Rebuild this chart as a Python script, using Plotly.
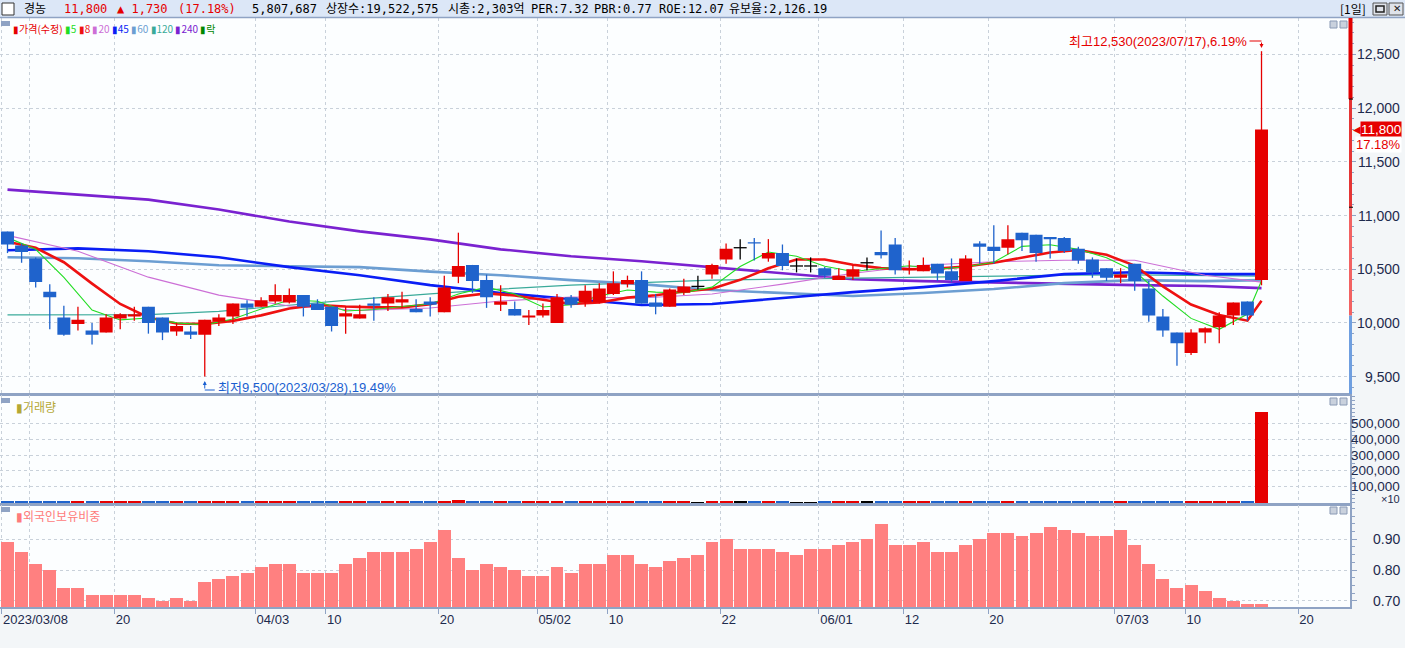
import plotly.graph_objects as go
from plotly.subplots import make_subplots

# ─── data ──────────────────────────────────────────
TRADING_DAYS = {
    3: [8, 9, 10, 13, 14, 15, 16, 17, 20, 21, 22, 23, 24, 27, 28, 29, 30, 31],
    4: [3, 4, 5, 6, 7, 10, 11, 12, 13, 14, 17, 18, 19, 20, 21, 24, 25, 26, 27, 28],
    5: [2, 3, 4, 8, 9, 10, 11, 12, 15, 16, 17, 18, 19, 22, 23, 24, 25, 26, 30, 31],
    6: [1, 2, 5, 7, 8, 9, 12, 13, 14, 15, 16, 19, 20, 21, 22, 23, 26, 27, 28, 29, 30],
    7: [3, 4, 5, 6, 7, 10, 11, 12, 13, 14, 17],
}
DATES = [f"2023/{m:02d}/{d:02d}" for m, days in TRADING_DAYS.items() for d in days]
FUTURE_DATES = ["2023/07/18", "2023/07/19", "2023/07/20", "2023/07/21", "2023/07/24", "2023/07/25"]

OPEN = [10850, 10720, 10600, 10290, 10050, 9990, 9930, 9910, 10040, 10060,
        10150, 10050, 9920, 9920, 9890, 10010, 10060, 10180, 10150, 10200,
        10190, 10260, 10180, 10150, 10060, 10040, 10180, 10180, 10190, 10130,
        10200, 10100, 10430, 10540, 10400, 10170, 10130, 10050, 10070, 10000,
        10240, 10190, 10190, 10270, 10360, 10400, 10190, 10150, 10280, 10340,
        10450, 10590, 10700, 10750, 10600, 10650, 10530, 10530, 10510, 10400,
        10430, 10560, 10660, 10730, 10490, 10480, 10550, 10480, 10390, 10740,
        10710, 10700, 10840, 10820, 10800, 10790, 10690, 10590, 10510, 10420,
        10550, 10320, 10060, 9910, 9720, 9910, 9960, 10070, 10200, 10400]
HIGH = [10850, 10740, 10610, 10360, 10160, 10150, 10000, 10080, 10090, 10150,
        10150, 10050, 10000, 9970, 10030, 10080, 10180, 10210, 10240, 10360,
        10320, 10260, 10220, 10150, 10150, 10170, 10240, 10270, 10290, 10220,
        10240, 10440, 10840, 10540, 10450, 10350, 10200, 10120, 10180, 10270,
        10260, 10350, 10370, 10480, 10440, 10480, 10270, 10320, 10410, 10440,
        10550, 10740, 10780, 10790, 10780, 10730, 10600, 10610, 10520, 10510,
        10540, 10610, 10860, 10790, 10580, 10610, 10550, 10600, 10630, 10760,
        10910, 10910, 10840, 10820, 10800, 10800, 10710, 10610, 10510, 10510,
        10550, 10390, 10130, 9910, 9940, 9960, 10100, 10190, 10200, 12530]
LOW = [10650, 10560, 10330, 9940, 9880, 9930, 9800, 9910, 9940, 10020,
       9900, 9840, 9880, 9850, 9500, 9970, 9990, 10060, 10150, 10180,
       10180, 10060, 10120, 9920, 9900, 10040, 10020, 10110, 10140, 10100,
       10060, 10100, 10370, 10280, 10140, 10110, 10070, 9980, 10050, 10000,
       10140, 10150, 10180, 10260, 10330, 10180, 10080, 10150, 10260, 10310,
       10410, 10550, 10590, 10580, 10570, 10490, 10470, 10470, 10420, 10400,
       10400, 10490, 10600, 10450, 10450, 10480, 10390, 10380, 10390, 10550,
       10550, 10640, 10670, 10570, 10600, 10650, 10550, 10420, 10390, 10370,
       10300, 10010, 9870, 9600, 9700, 9810, 9810, 9980, 10020, 10350]
CLOSE = [10730, 10660, 10380, 10240, 9890, 10030, 9890, 10050, 10080, 10080,
         10000, 9910, 9970, 9890, 10030, 10050, 10180, 10140, 10210, 10260,
         10260, 10150, 10120, 9970, 10090, 10080, 10160, 10240, 10220, 10100,
         10170, 10330, 10530, 10390, 10240, 10200, 10070, 10070, 10120, 10240,
         10170, 10300, 10320, 10370, 10400, 10180, 10150, 10310, 10340, 10340,
         10540, 10690, 10700, 10740, 10650, 10530, 10530, 10530, 10440, 10440,
         10500, 10560, 10630, 10490, 10510, 10540, 10460, 10400, 10600, 10710,
         10670, 10780, 10770, 10650, 10780, 10670, 10580, 10470, 10420, 10450,
         10390, 10070, 9930, 9810, 9910, 9950, 10070, 10190, 10070, 11800]

# volume, in units of 10 shares (axis shows x10)
VOLUME = [6200, 5400, 7100, 6800, 7400, 6100, 5600, 6900, 5800, 5300,
          6400, 6100, 5200, 5000, 9200, 6600, 7300, 5700, 6000, 7800,
          6900, 6200, 5100, 6500, 6300, 5200, 5900, 6700, 5600, 5400,
          5800, 9600, 16500, 8200, 6900, 5600, 5200, 4900, 5300, 7600,
          5800, 6200, 6000, 7100, 5400, 6900, 5600, 6300, 5800, 4800,
          6600, 7900, 5900, 5700, 6100, 6200, 4700, 4600, 5500, 5100,
          5600, 5200, 7400, 6800, 5100, 5300, 5500, 5600, 6800, 6100,
          7200, 6900, 5800, 6000, 5400, 5300, 5900, 6100, 5800, 5100,
          6200, 8600, 8100, 9800, 7600, 5900, 6600, 6800, 5900, 580769]

FOREIGN = [0.89, 0.86, 0.82, 0.80, 0.74, 0.74, 0.72, 0.72, 0.72, 0.72,
           0.71, 0.70, 0.71, 0.70, 0.76, 0.77, 0.78, 0.79, 0.81, 0.82,
           0.82, 0.79, 0.79, 0.79, 0.82, 0.84, 0.86, 0.86, 0.86, 0.87,
           0.89, 0.93, 0.84, 0.80, 0.82, 0.81, 0.80, 0.78, 0.78, 0.81,
           0.79, 0.82, 0.82, 0.85, 0.85, 0.82, 0.81, 0.83, 0.84, 0.85,
           0.89, 0.90, 0.87, 0.87, 0.87, 0.86, 0.85, 0.87, 0.87, 0.88,
           0.89, 0.90, 0.95, 0.88, 0.88, 0.89, 0.86, 0.86, 0.88, 0.90,
           0.92, 0.92, 0.91, 0.92, 0.94, 0.93, 0.92, 0.91, 0.91, 0.93,
           0.88, 0.82, 0.77, 0.74, 0.75, 0.73, 0.71, 0.70, 0.69, 0.69]

# moving averages (short ones every 2nd day, long ones every 5th)
MA_SHORT_IDX = list(range(0, 89, 2)) + [89]
MA_LONG_IDX = list(range(0, 86, 5)) + [89]
MA5 = [10794, 10685, 10423, 10120, 10028, 10046, 10000, 9982, 10037, 10130,
       10213, 10201, 10111, 10125, 10153, 10176, 10269, 10333, 10269, 10148,
       10170, 10250, 10306, 10287, 10282, 10333, 10525, 10660, 10620, 10528,
       10479, 10509, 10532, 10500, 10523, 10565, 10713, 10727, 10685, 10607,
       10481, 10250, 10042, 9940, 10083, 10392]
MA8 = [10755, 10699, 10565, 10366, 10176, 10051, 9995, 9991, 10019, 10070,
       10134, 10167, 10153, 10145, 10145, 10173, 10243, 10275, 10255, 10217,
       10176, 10190, 10235, 10257, 10292, 10318, 10401, 10509, 10590, 10590,
       10542, 10510, 10500, 10505, 10525, 10560, 10611, 10655, 10679, 10634,
       10534, 10340, 10171, 10074, 10021, 10207]
MA20 = [10815, 10667, 10426, 10259, 10157, 10116, 10139, 10204, 10241, 10232,
        10269, 10361, 10463, 10537, 10569, 10583, 10583, 10444, 10380]
MA45 = [10676, 10694, 10667, 10611, 10519, 10444, 10352, 10278, 10222, 10167,
        10176, 10232, 10287, 10333, 10389, 10454, 10472, 10454, 10454]
MA60 = [10611, 10602, 10574, 10537, 10528, 10519, 10477, 10444, 10398, 10361,
        10306, 10278, 10250, 10278, 10315, 10370, 10398, 10389, 10398]
MA120 = [10074, 10074, 10077, 10108, 10167, 10222, 10270, 10315, 10352, 10377,
         10398, 10407, 10417, 10423, 10438, 10444, 10447, 10440, 10435]
MA240 = [11241, 11195, 11148, 11056, 10944, 10852, 10778, 10685, 10620, 10574,
         10519, 10463, 10407, 10389, 10375, 10361, 10352, 10343, 10324]

TICK_DATES = ["2023/03/08", "2023/03/20", "2023/04/03", "2023/04/10", "2023/04/20",
              "2023/05/02", "2023/05/10", "2023/05/22", "2023/06/01", "2023/06/12",
              "2023/06/20", "2023/07/03", "2023/07/10", "2023/07/20"]
TICK_TEXT = ["2023/03/08", "20", "04/03", "10", "20", "05/02", "10", "22",
             "06/01", "12", "20", "07/03", "10", "20"]
GRID_ONLY_DATES = ["2023/03/10"]

PRICE_TICKS = [9500, 10000, 10500, 11000, 11500, 12000, 12500]
VOL_TICKS = [100000, 200000, 300000, 400000, 500000]
FOREIGN_TICKS = [0.70, 0.80, 0.90]
LIMIT_BANDS = [10070, 11077, 12084]   # 0%, +10%, +20% from previous close

HEADER_NAME = "경농"
HEADER_INFO = ["5,807,687", "상장수:19,522,575", "시총:2,303억", "PER:7.32",
               "PBR:0.77", "ROE:12.07", "유보율:2,126.19"]

# ─── style ─────────────────────────────────────────
W, H = 1405, 648
M_L, M_R, M_T, M_B = 0, 55, 18, 41
PW = W - M_L - M_R
PH = H - M_T - M_B

RED = "#e60000"
BLUE = "#1f63cc"
BLACK = "#000000"
FOREIGN_C = "#ff8080"
AX_LINE = "#8fa3c4"
GRID = "#c9d1da"
TXT = "#1d2a4d"
PLOT_BG = "#fcfeff"
PAPER_BG = "#f3f6f8"
FONT_AX = "Liberation Sans Narrow, Liberation Sans, Noto Sans CJK KR"
FONT_HDR = "DejaVu Sans Mono, Noto Sans CJK KR"
FONT_KR = "Noto Sans CJK KR"

MA_STYLE = [  # (label, idx, values, color, width)
    ("240", MA_LONG_IDX, MA240, "#7a22d0", 2.6),
    ("120", MA_LONG_IDX, MA120, "#3aaa9a", 1.2),
    ("60", MA_LONG_IDX, MA60, "#6c9ed2", 2.6),
    ("45", MA_LONG_IDX, MA45, "#0a1ef5", 2.6),
    ("20", MA_LONG_IDX, MA20, "#cc6fd6", 1.1),
    ("8", MA_SHORT_IDX, MA8, "#ee1111", 2.6),
    ("5", MA_SHORT_IDX, MA5, "#22dd22", 1.1),
]

X_RANGE = [-0.532, 95.28]
TICK_SHIFT = -0.41
HALF_W = 0.46


def px(x):
    return (x - M_L) / PW


def py(y):
    return (H - M_B - y) / PH


def candle_color(o, c):
    if c > o:
        return RED
    if c < o:
        return BLUE
    return BLACK


X = list(range(len(DATES)))
ALL_DATES = DATES + FUTURE_DATES
COLORS = [candle_color(o, c) for o, c in zip(OPEN, CLOSE)]

fig = make_subplots(rows=3, cols=1, shared_xaxes=True, vertical_spacing=0.0)

# moving averages (under the candles)
for label, idx, vals, color, width in MA_STYLE:
    fig.add_trace(go.Scatter(
        x=[X[i] for i in idx], y=vals, mode="lines",
        line=dict(color=color, width=width), hoverinfo="skip", name=label,
    ), row=1, col=1)

# candles: wicks then bodies (filled polygons so they stay above the MA lines)
for col in (RED, BLUE, BLACK):
    wx, wy, bx, by = [], [], [], []
    for i, (o, h, l, c, k) in enumerate(zip(OPEN, HIGH, LOW, CLOSE, COLORS)):
        if k != col:
            continue
        wx += [X[i], X[i], None]
        wy += [l, h, None]
        lo, hi = min(o, c), max(o, c)
        if hi == lo:
            wx += [X[i] - HALF_W, X[i] + HALF_W, None]
            wy += [o, o, None]
        else:
            bx += [X[i] - HALF_W, X[i] + HALF_W, X[i] + HALF_W, X[i] - HALF_W, X[i] - HALF_W, None]
            by += [lo, lo, hi, hi, lo, None]
    fig.add_trace(go.Scatter(x=wx, y=wy, mode="lines", line=dict(color=col, width=1.3),
                             hoverinfo="skip"), row=1, col=1)
    if bx:
        fig.add_trace(go.Scatter(x=bx, y=by, mode="lines", fill="toself", fillcolor=col,
                                 line=dict(color=col, width=0), hoverinfo="skip"), row=1, col=1)

fig.add_trace(go.Bar(x=X, y=VOLUME, width=0.92, marker=dict(color=COLORS, line=dict(width=0)),
                     hoverinfo="skip"), row=2, col=1)
fig.add_trace(go.Bar(x=X, y=FOREIGN, width=0.92, marker=dict(color=FOREIGN_C, line=dict(width=0)),
                     hoverinfo="skip"), row=3, col=1)

# ─── axes ──────────────────────────────────────────
tick_pos = [ALL_DATES.index(d) + TICK_SHIFT for d in TICK_DATES]
grid_only = [ALL_DATES.index(d) + TICK_SHIFT for d in GRID_ONLY_DATES]

fig.update_xaxes(
    range=X_RANGE, tickvals=tick_pos, ticktext=TICK_TEXT,
    showgrid=True, gridcolor=GRID, griddash="dot", gridwidth=1,
    showline=True, linecolor=AX_LINE, linewidth=1.5, mirror=True, zeroline=False,
    minor=dict(tickvals=grid_only, showgrid=True, gridcolor=GRID, griddash="dot", ticks=""),
)
fig.update_xaxes(
    ticks="outside", ticklen=5, tickcolor=AX_LINE, ticklabelposition="outside right",
    tickfont=dict(family=FONT_AX, size=13, color=TXT), row=3, col=1,
)

common_y = dict(side="right", showticklabels=False, ticks="outside", ticklen=5,
                tickcolor=AX_LINE, showgrid=True, gridcolor=GRID, griddash="dot",
                zeroline=False, fixedrange=True)
fig.update_yaxes(range=[9338, 12839], tickvals=PRICE_TICKS, showline=False,
                 minor=dict(dtick=100, ticks="outside", ticklen=3, tickcolor=AX_LINE),
                 row=1, col=1, **common_y)
fig.update_yaxes(range=[-8000, 688000], tickvals=VOL_TICKS, showline=True,
                 linecolor=AX_LINE, linewidth=2,
                 minor=dict(dtick=25000, ticks="outside", ticklen=3, tickcolor=AX_LINE),
                 row=2, col=1, **common_y)
fig.update_yaxes(range=[0.6795, 1.0117], tickvals=FOREIGN_TICKS, showline=True,
                 linecolor=AX_LINE, linewidth=2,
                 minor=dict(dtick=0.025, ticks="outside", ticklen=3, tickcolor=AX_LINE),
                 row=3, col=1, **common_y)

# ─── texts ─────────────────────────────────────────
ann = []


def note(text, x, y, xref="paper", yref="paper", **kw):
    d = dict(text=text, x=x, y=y, xref=xref, yref=yref, showarrow=False,
             xanchor=kw.pop("xanchor", "left"), yanchor=kw.pop("yanchor", "middle"))
    d.update(kw)
    ann.append(d)


for v in PRICE_TICKS:
    note(f"{v:,}", px(1402), v, yref="y", xanchor="right",
         font=dict(family=FONT_AX, size=14, color=TXT))
for v in VOL_TICKS:
    note(f"{v:,}", px(1402), v, yref="y2", xanchor="right",
         font=dict(family=FONT_AX, size=13.5, color=TXT))
note("×10", px(1402), py(499), xanchor="right", font=dict(family=FONT_AX, size=11, color=TXT))
for v in FOREIGN_TICKS:
    note(f"{v:.2f}", px(1402), v, yref="y3", xanchor="right",
         font=dict(family=FONT_AX, size=14, color=TXT))

last, prev = CLOSE[-1], CLOSE[-2]
chg = last - prev
pct = chg / prev * 100

# current price tag on the price axis
note(f"{last:,}", px(1402), last, yref="y", xanchor="right", bgcolor=RED, borderpad=0,
     font=dict(family=FONT_AX, size=13.5, color="white"))
note(f"{pct:.2f}%", px(1402), py(144), xanchor="right", bgcolor="white", borderpad=0,
     font=dict(family=FONT_AX, size=13, color=RED))
note("◀", px(1351), last, yref="y", font=dict(family="DejaVu Sans", size=10, color=RED))

# high / low markers
hi_i = HIGH.index(max(HIGH))
lo_i = LOW.index(min(LOW))
hi_pct = (HIGH[hi_i] - last) / last * 100
lo_pct = (last - LOW[lo_i]) / last * 100
note(f"최고{HIGH[hi_i]:,}({DATES[hi_i]}),{hi_pct:.2f}%", px(1249), py(41), xanchor="right",
     font=dict(family=FONT_AX, size=13, color=RED))
ann.append(dict(text="", x=X[hi_i], y=py(48), xref="x", yref="paper", showarrow=True,
                ax=0, ay=-7, arrowhead=2, arrowsize=0.8, arrowwidth=1, arrowcolor=RED))
note(f"최저{LOW[lo_i]:,}({DATES[lo_i]}),{lo_pct:.2f}%", px(216), py(387),
     font=dict(family=FONT_AX, size=13, color="#1a5fd0"))
ann.append(dict(text="", x=X[lo_i], y=py(381), xref="x", yref="paper", showarrow=True,
                ax=0, ay=9, arrowhead=2, arrowsize=0.8, arrowwidth=1, arrowcolor="#1a5fd0"))

# header
HDR_SIZE = 12
note(HEADER_NAME, px(22), py(9), font=dict(family=FONT_HDR, size=HDR_SIZE, color="black"))
note(f"{last:,}", px(62), py(9), font=dict(family=FONT_HDR, size=HDR_SIZE, color=RED))
note(f"▲ {chg:,}", px(115), py(9), font=dict(family=FONT_HDR, size=HDR_SIZE, color=RED))
note(f"({pct:.2f}%)", px(176), py(9), font=dict(family=FONT_HDR, size=HDR_SIZE, color=RED))
for text, x in zip(HEADER_INFO, [250, 324, 446, 529, 592, 657, 727]):
    note(text, px(x), py(9), font=dict(family=FONT_HDR, size=HDR_SIZE, color="black"))
note("[1일]", px(1338), py(9), font=dict(family=FONT_KR, size=12, color="black"))
note("✕", px(1396.5), py(9), xanchor="center",
     font=dict(family="DejaVu Sans", size=10, color="#222"))

# panel legends
legend_items = [("가격(수정)", RED)] + [(lab, c) for lab, _, _, c, _ in reversed(MA_STYLE)] \
    + [("락", "#008800")]
leg_txt = " ".join(f"<span style='color:{c}'>▮{t}</span>" for t, c in legend_items)
note(leg_txt, px(11), py(28), font=dict(family=FONT_KR, size=10, color=RED))
note("<span style='color:#b5a834'>▮거래량</span>", px(14), py(406),
     font=dict(family=FONT_KR, size=12, color="#b5a834"))
note("<span style='color:#ff7b7b'>▮외국인보유비중</span>", px(14), py(515),
     font=dict(family=FONT_KR, size=12, color="#ff7b7b"))

# ─── shapes ────────────────────────────────────────
shapes = []


def rect(x0, y0, x1, y1, fill, line=None, lw=1):
    shapes.append(dict(type="rect", xref="paper", yref="paper",
                       x0=px(x0), x1=px(x1), y0=py(y1), y1=py(y0), fillcolor=fill,
                       line=dict(color=line or fill, width=lw if line else 0), layer="above"))


# header bar
rect(0, 0, W, 17, "#dce7f7")
shapes.append(dict(type="line", xref="paper", yref="paper", x0=px(0), x1=px(W),
                   y0=py(17.5), y1=py(17.5), line=dict(color=AX_LINE, width=1.5)))
rect(2, 3, 14, 15, "white", "#333333")
rect(1373, 3, 1387, 15, "#dfe3ea", "#555555")
rect(1376, 6, 1384, 12, "#dfe3ea", "#222222", 1.5)
rect(1389, 3, 1403, 15, "#dfe3ea", "#555555")

# panel corner icons and legend squares
for top in (21, 398, 507):
    rect(1330, top, 1337, top + 7, "#c9d1dd", "#8a9ab5")
    rect(1340, top, 1347, top + 7, "#c9d1dd", "#8a9ab5")
    rect(1, top, 10, top + 5, "#8fa3c4")

# coloured price-axis band (below prev close, 0-10%, 10-20%, above 20%)
band_edges = [9338] + LIMIT_BANDS + [12839]
band_cols = ["#6f9fe0", "#f26262", "#e53535", "#e00000"]
band_w = [3, 3, 3, 4]
for y0, y1, c, w in zip(band_edges[:-1], band_edges[1:], band_cols, band_w):
    shapes.append(dict(type="line", xref="paper", yref="y", x0=px(1350.5), x1=px(1350.5),
                       y0=y0, y1=y1, line=dict(color=c, width=w)))
for lv in LIMIT_BANDS[1:]:
    shapes.append(dict(type="line", xref="paper", yref="y", x0=px(1349), x1=px(1353),
                       y0=lv, y1=lv, line=dict(color="black", width=1)))

# hooks of the high / low markers
shapes.append(dict(type="line", xref="x", yref="paper", xsizemode="pixel", xanchor=X[hi_i],
                   x0=-12, x1=0, y0=py(41), y1=py(41), line=dict(color=RED, width=1)))
shapes.append(dict(type="line", xref="x", yref="paper", xsizemode="pixel", xanchor=X[lo_i],
                   x0=0, x1=10, y0=py(390), y1=py(390), line=dict(color="#1a5fd0", width=1)))

fig.update_layout(
    width=W, height=H,
    margin=dict(l=M_L, r=M_R, t=M_T, b=M_B),
    paper_bgcolor=PAPER_BG, plot_bgcolor=PLOT_BG,
    showlegend=False, bargap=0,
    yaxis=dict(domain=[py(394), 1.0]),
    yaxis2=dict(domain=[py(503.5), py(394.5)]),
    yaxis3=dict(domain=[0, py(505)]),
    annotations=ann, shapes=shapes,
    hovermode=False,
)

fig.write_html("out.html", config={"displayModeBar": False},
               post_script="document.body.style.margin='0';")
